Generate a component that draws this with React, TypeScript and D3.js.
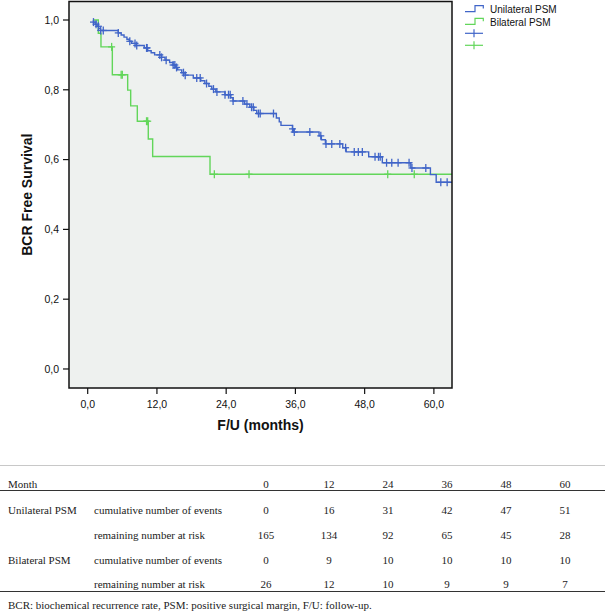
import React from 'react';
import * as d3 from 'd3';

// ---- Data ----
const uniTimes = [1.0, 1.3, 1.6, 1.9, 2.2, 5.3, 5.8, 6.3, 6.8, 7.2, 7.6, 8.4, 9.8, 10.4, 11.0, 11.6,
  12.8, 13.4, 14.2, 14.8, 15.2, 15.6, 16.3, 16.9, 18.3, 19.6, 20.3, 21.0, 21.5, 22.2, 23.8,
  24.8, 25.2, 27.2, 28.1, 28.8, 29.3, 32.7, 33.2, 33.5, 35.5, 35.7,
  40.1, 40.5, 41.2, 44.2, 44.8,
  48.7, 51.06, 56.0, 59.4, 60.4];
const uniSurv = [0.994, 0.988, 0.982, 0.976, 0.970, 0.963, 0.957, 0.951, 0.945, 0.939, 0.933, 0.927, 0.920, 0.912, 0.906, 0.900,
  0.893, 0.885, 0.878, 0.871, 0.864, 0.857, 0.849, 0.842, 0.834, 0.826, 0.818, 0.810, 0.802, 0.794, 0.786,
  0.777, 0.768, 0.759, 0.750, 0.741, 0.732, 0.719, 0.708, 0.698, 0.688, 0.679,
  0.668, 0.657, 0.645, 0.634, 0.622,
  0.608, 0.591, 0.576, 0.557, 0.535];
const uniCensor = [1.0, 1.45, 1.85, 2.25, 2.7, 5.3, 7.3, 8.2, 8.5, 10.2, 10.3, 12.5, 12.8, 13.6, 14.8, 15.1, 15.4,
  16.6, 16.9, 18.9, 19.5, 20.6, 21.8, 22.4, 23.8, 24.4, 24.7, 25.2, 26.9, 27.6, 28.4, 28.7, 29.6, 29.9,
  32.2, 35.5, 35.8, 38.5, 40.4, 41.3, 42.3, 43.7, 44.7, 46.2, 46.9, 47.6, 49.8, 50.4, 50.7,
  51.8, 52.7, 53.8, 55.7, 56.2, 58.6, 61.2, 62.3];

const biTimes = [1.84, 2.3, 4.27, 6.93, 7.45, 8.6, 10.5, 11.26, 21.2];
const biSurv = [0.962, 0.923, 0.843, 0.799, 0.754, 0.710, 0.659, 0.609, 0.558];
const biCensor = [4.15, 5.8, 6.0, 10.2, 10.4, 21.95, 27.96, 52.0, 56.6];

const startTime = 1.0;
const endTime = 63.14;

const xTickValues = [0, 12, 24, 36, 48, 60];
const yTickValues = [0, 0.2, 0.4, 0.6, 0.8, 1.0];
const legendLabels = ['Unilateral PSM', 'Bilateral PSM'];

const tableMonths = [0, 12, 24, 36, 48, 60];
const uniEvents = [0, 16, 31, 42, 47, 51];
const uniRisk = [165, 134, 92, 65, 45, 28];
const biEvents = [0, 9, 10, 10, 10, 10];
const biRisk = [26, 12, 10, 9, 9, 7];

const BLUE = '#4065c8';
const GREEN = '#62d65a';
const SANS = 'Liberation Sans, Arial, sans-serif';
const SERIF = 'Liberation Serif, Times New Roman, serif';

const left = 69, right = 452, top = 1.5, bottom = 388;
const x = d3.scaleLinear().domain([-3.24, 63.14]).range([left, right]);
const y = d3.scaleLinear().domain([-0.0545, 1.053]).range([bottom, top]);
const fmt = (v: number) => d3.format('.1f')(v).replace('.', ',');

function survAt(times: number[], surv: number[], t: number) {
  const i = d3.bisectRight(times, t) - 1;
  return i < 0 ? 1 : surv[i];
}

function stepPath(times: number[], surv: number[]) {
  const pts: [number, number][] = [[startTime, 1]];
  times.forEach((t, i) => pts.push([t, surv[i]]));
  pts.push([endTime, surv[surv.length - 1]]);
  const line = d3.line<[number, number]>().x(d => x(d[0])).y(d => y(d[1])).curve(d3.curveStepAfter);
  return line(pts) || '';
}

function Censors({ times, surv, cens, color }: { times: number[]; surv: number[]; cens: number[]; color: string }) {
  return (
    <g stroke={color} strokeWidth={1.3}>
      {cens.map((c, i) => {
        const cx = x(c), cy = y(survAt(times, surv, c));
        return (
          <g key={i}>
            <line x1={cx - 3.5} x2={cx + 3.5} y1={cy} y2={cy} />
            <line x1={cx} x2={cx} y1={cy - 4} y2={cy + 4} />
          </g>
        );
      })}
    </g>
  );
}

const colX = [266, 329, 388, 447, 506, 565];

export default function App() {
  const rows: { label: string; sub: string; vals: number[]; yb: number }[] = [
    { label: 'Unilateral PSM', sub: 'cumulative number of events', vals: uniEvents, yb: 514 },
    { label: '', sub: 'remaining number at risk', vals: uniRisk, yb: 539 },
    { label: 'Bilateral PSM', sub: 'cumulative number of events', vals: biEvents, yb: 564 },
    { label: '', sub: 'remaining number at risk', vals: biRisk, yb: 588 },
  ];
  return (
    <svg width={605} height={611} style={{ position: 'absolute', left: 0, top: 0, background: '#fff' }}>
      {/* plot background */}
      <rect x={left} y={top} width={right - left} height={bottom - top} fill="#eef1ef" />
      {/* curves */}
      <path d={stepPath(biTimes, biSurv)} fill="none" stroke={GREEN} strokeWidth={1.4} />
      <path d={stepPath(uniTimes, uniSurv)} fill="none" stroke={BLUE} strokeWidth={1.4} />
      <Censors times={biTimes} surv={biSurv} cens={biCensor} color={GREEN} />
      <Censors times={uniTimes} surv={uniSurv} cens={uniCensor} color={BLUE} />
      {/* frame */}
      <rect x={left} y={top} width={right - left} height={bottom - top} fill="none" stroke="#111" strokeWidth={1.5} />
      {/* y axis ticks */}
      {yTickValues.map(v => (
        <g key={v}>
          <line x1={left - 6} x2={left} y1={y(v)} y2={y(v)} stroke="#111" strokeWidth={1.2} />
          <text x={59} y={y(v) + 3.8} textAnchor="end" fontFamily={SANS} fontSize={10.5} fill="#111">{fmt(v)}</text>
        </g>
      ))}
      {/* x axis ticks */}
      {xTickValues.map(v => (
        <g key={v}>
          <line x1={x(v)} x2={x(v)} y1={bottom} y2={bottom + 6} stroke="#111" strokeWidth={1.2} />
          <text x={x(v)} y={408} textAnchor="middle" fontFamily={SANS} fontSize={10.5} fill="#111">{fmt(v)}</text>
        </g>
      ))}
      <text x={260.5} y={430} textAnchor="middle" fontFamily={SANS} fontSize={14} fontWeight="bold" fill="#111">F/U (months)</text>
      <text transform={`translate(32,${(top + bottom) / 2}) rotate(-90)`} textAnchor="middle" fontFamily={SANS} fontSize={14} fontWeight="bold" fill="#111">BCR Free Survival</text>

      {/* legend */}
      {[BLUE, GREEN].map((c, i) => {
        const t0 = 5.7 + i * 12.7;
        return (
          <g key={i}>
            <path d={`M465,${t0 + 6} H475 V${t0} H483.3 V${t0 + 2.8}`} fill="none" stroke={c} strokeWidth={1.2} />
            <text x={490} y={t0 + 7.5} fontFamily={SANS} fontSize={10} fill="#111">{legendLabels[i]}</text>
          </g>
        );
      })}
      {[BLUE, GREEN].map((c, i) => {
        const cy = 33.3 + i * 12;
        return (
          <g key={'p' + i} stroke={c} strokeWidth={1.2}>
            <line x1={465} x2={483} y1={cy} y2={cy} />
            <line x1={474} x2={474} y1={cy - 4} y2={cy + 4} />
          </g>
        );
      })}

      {/* table */}
      <line x1={0} x2={605} y1={465.5} y2={465.5} stroke="#c8c8c8" strokeWidth={1} />
      <text x={8} y={487.5} fontFamily={SERIF} fontSize={11} fill="#222">Month</text>
      {tableMonths.map((m, i) => (
        <text key={m} x={colX[i]} y={487.5} textAnchor="middle" fontFamily={SERIF} fontSize={11} fill="#222">{m}</text>
      ))}
      <line x1={0} x2={605} y1={490.5} y2={490.5} stroke="#333" strokeWidth={1} />
      {rows.map((r, ri) => (
        <g key={ri}>
          {r.label && <text x={8} y={r.yb} fontFamily={SERIF} fontSize={11} fill="#222">{r.label}</text>}
          <text x={94} y={r.yb} fontFamily={SERIF} fontSize={11} fill="#222">{r.sub}</text>
          {r.vals.map((v, i) => (
            <text key={i} x={colX[i]} y={r.yb} textAnchor="middle" fontFamily={SERIF} fontSize={11} fill="#222">{v}</text>
          ))}
        </g>
      ))}
      <line x1={0} x2={605} y1={591.5} y2={591.5} stroke="#333" strokeWidth={1} />
      <text x={8} y={608.5} fontFamily={SERIF} fontSize={11} fill="#222">BCR: biochemical recurrence rate, PSM: positive surgical margin, F/U: follow-up.</text>
    </svg>
  );
}
